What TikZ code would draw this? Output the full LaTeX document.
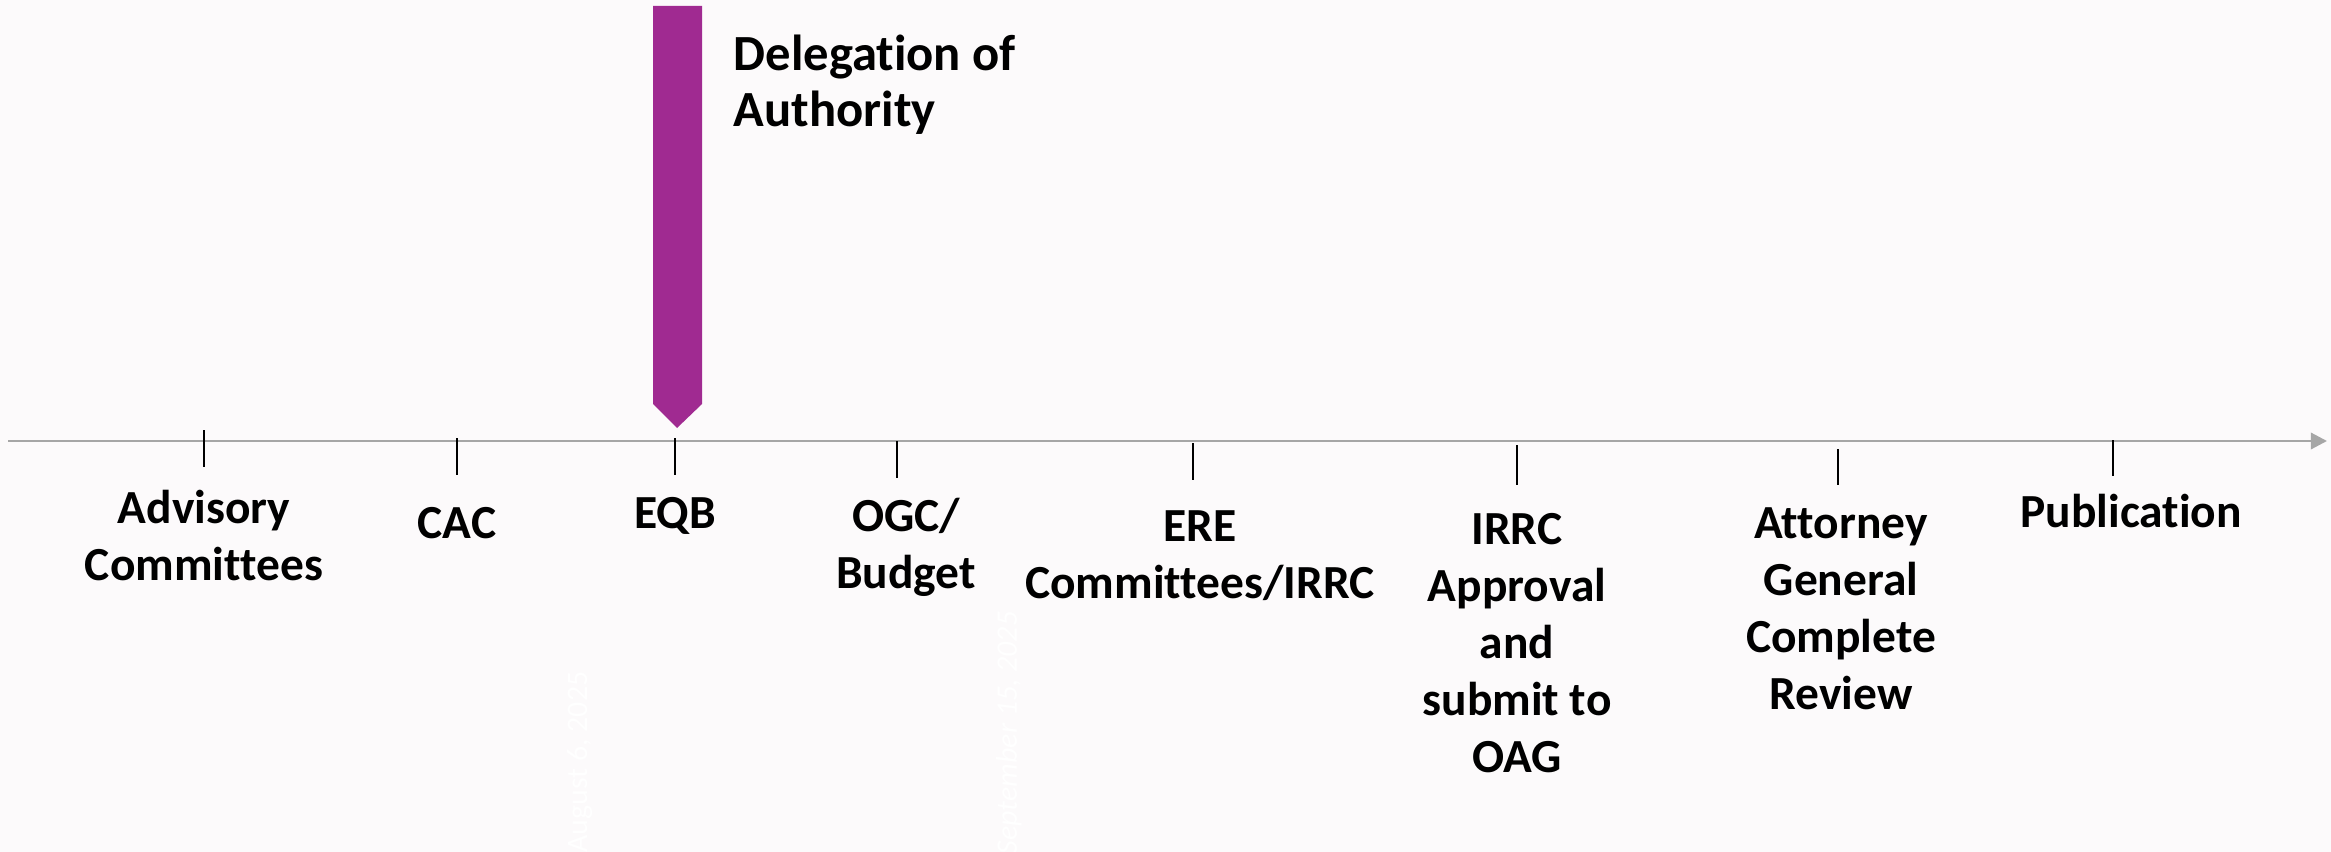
\documentclass[tikz,border=0pt]{standalone}
\usepackage{fontspec}
\setmainfont{Carlito}[RawFeature={-liga;-clig;-calt}]
\usetikzlibrary{arrows.meta}

\definecolor{bgpink}{RGB}{252,250,251}
\definecolor{axisgray}{RGB}{166,166,166}
\definecolor{delegpurple}{RGB}{160,42,145}

\begin{document}
\begin{tikzpicture}[x=0.01cm, y=-0.01cm,
    stage/.style={align=center, anchor=base, inner sep=0pt,
      font=\bfseries\fontsize{13.5pt}{16.2pt}\selectfont},
    tickline/.style={line width=0.6pt},
    datemark/.style={rotate=90, text=white, inner sep=0pt,
      font=\fontsize{8.5pt}{10pt}\selectfont}]
  % page
  \fill[bgpink] (0, 0) rectangle (2331, 852);
  \useasboundingbox (0, 0) rectangle (2331, 852);

  % faint dates
  \node[datemark] (augdate) at (580, 762) {August 6, 2025};
  \node[datemark, font=\itshape\fontsize{8.5pt}{10pt}\selectfont] (sepdate) at (1009, 733) {September 15, 2025};

  % time line
  \coordinate (axisstart) at (8, 441);
  \coordinate (axisend) at (2327, 441);
  \draw[axisgray, line width=0.85pt, -{Triangle[length=4.6pt, width=4.6pt]}] (axisstart) -- (axisend);

  % marker
  \fill[delegpurple] (653, 6) -- (702, 6) -- (702, 404) -- (677, 428) -- (653, 404) -- cycle;
  % (base = last line)
  \node[anchor=base west, align=left, inner sep=0pt,
    font=\bfseries\fontsize{14.4pt}{16.2pt}\selectfont] (deleg) at (733, 127) {Delegation of\\Authority};

  % ticks
  \draw[tickline] (204, 430) -- (204, 467);
  \draw[tickline] (457, 438) -- (457, 475);
  \draw[tickline] (675, 438) -- (675, 475);
  \draw[tickline] (897, 441) -- (897, 478);
  \draw[tickline] (1193, 443) -- (1193, 480);
  \draw[tickline] (1517, 445) -- (1517, 485);
  \draw[tickline] (1838, 449) -- (1838, 485);
  \draw[tickline] (2113, 440) -- (2113, 476);

  % stages (anchored at the baseline of the last line)
  \node[stage] (advisory) at (204, 580) {Advisory\\Committees};
  \node[stage] (cac) at (457, 538) {CAC};
  \node[stage] (eqb) at (675, 528) {EQB};
  \node[stage] (ogc) at (906, 588) {OGC/\\Budget};
  \node[stage] (ere) at (1200, 598) {ERE\\Committees/IRRC};
  \node[stage] (irrc) at (1517, 772) {IRRC\\Approval\\and\\submit to\\OAG};
  \node[stage] (attgen) at (1841, 709) {Attorney\\General\\Complete\\Review};
  \node[stage] (pub) at (2131, 527) {Publication};
\end{tikzpicture}
\end{document}
